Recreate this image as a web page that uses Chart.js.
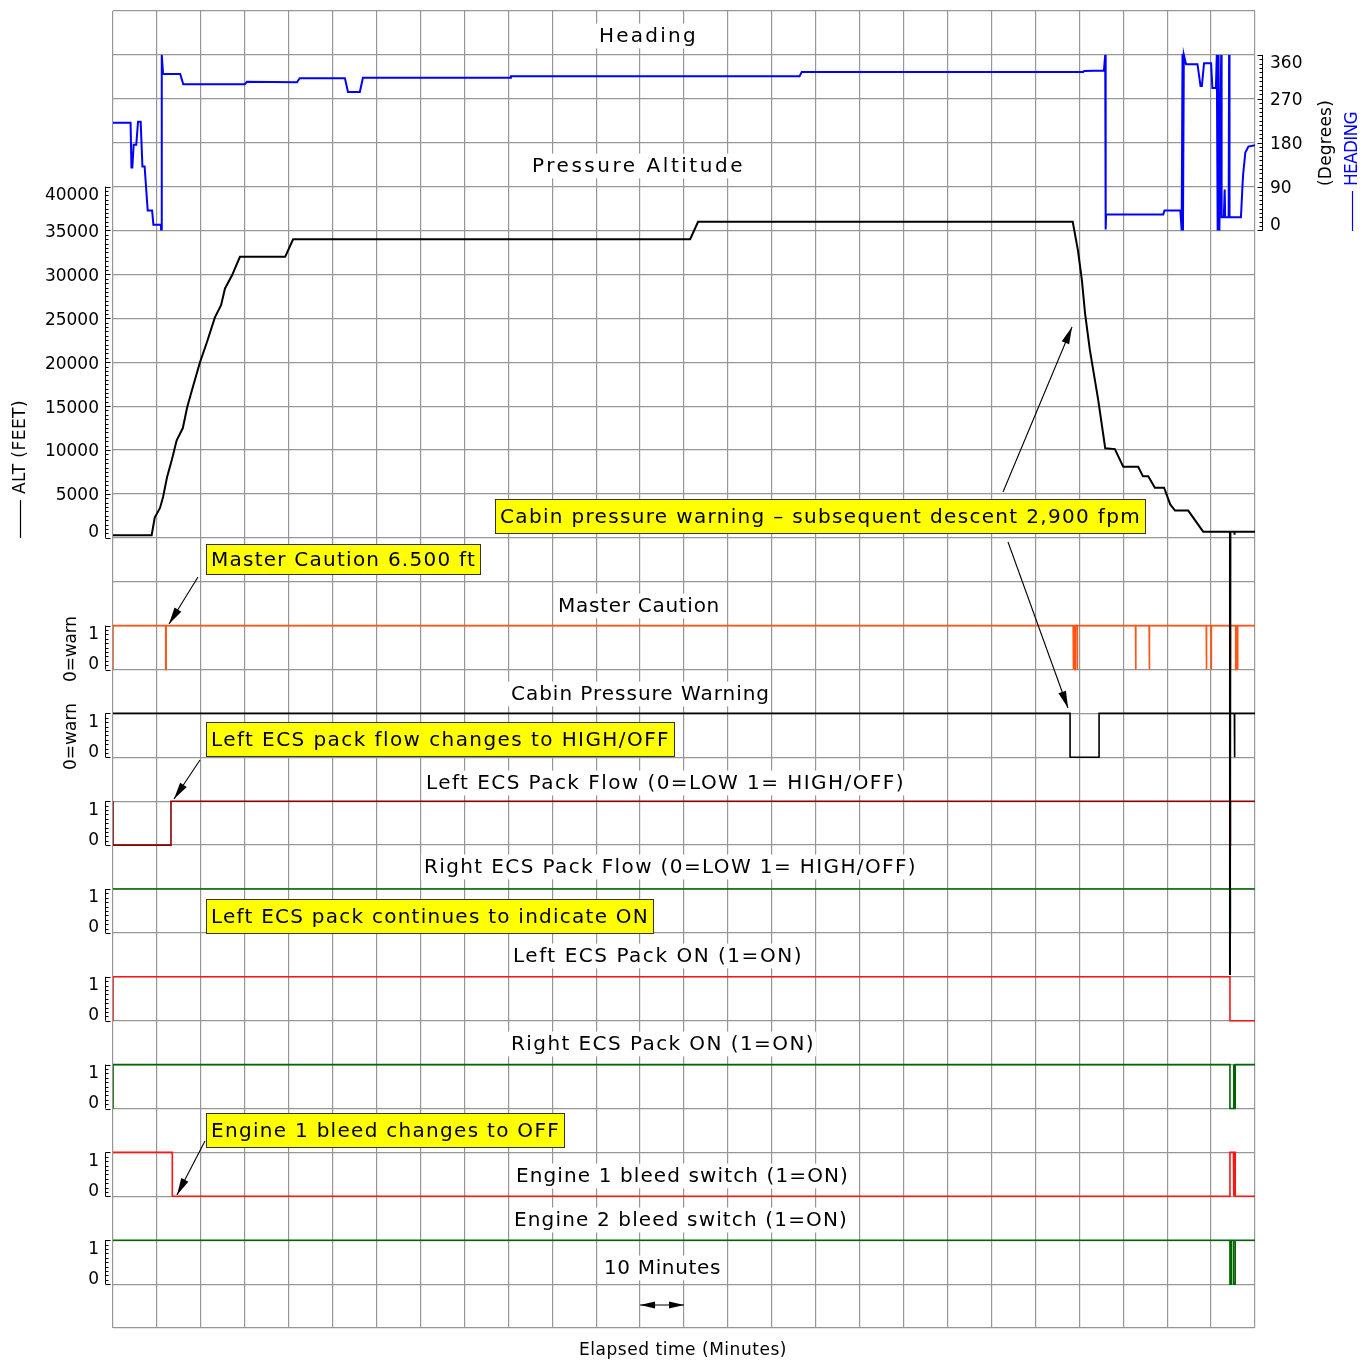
<!DOCTYPE html>
<html><head><meta charset="utf-8">
<script src="https://cdn.jsdelivr.net/npm/chart.js@4.4.1/dist/chart.umd.min.js"></script>
<style>html,body{margin:0;padding:0;background:#fff;overflow:hidden}canvas{display:block}</style>
</head><body>
<canvas id="c" width="1372" height="1365"></canvas>
<script>
// ---------- DATA (elapsed minutes / values) ----------
const xTickMinutes = [0,10,20,30,40,50,60,70,80,90,100,110,120,130,140,150,160,170,180,190,200,210,220,230,240,250,260];
const altTickLabels = [0,5000,10000,15000,20000,25000,30000,35000,40000];
const hdgTickLabels = [0,90,180,270,360];
const sigTickLabels = [0,1];

const altMin = [0,8.8,9.5,10.7,11.4,12.3,13.4,14.5,15.9,16.9,18.2,19.8,21.4,23.2,24.6,25.5,27.1,28.9,39.2,41.0,131.4,133.2,218.5,219.7,220.6,221.3,222.4,224.3,225.9,228.1,230.0,233.4,234.5,235.7,237.2,239.3,240.7,241.8,244.8,248.2,254.3,254.3,254.4,255.3,255.3,255.4,260];
const altFt  = [300,300,2300,3400,4650,6900,8900,11100,12500,14900,17200,20000,22300,25100,26500,28400,29900,32000,32000,34000,34000,36000,36000,32700,29300,25600,21400,15700,10200,10100,8100,8100,7000,7000,5700,5700,3800,3100,3100,700,700,-49800,700,700,350,700,700];

const hdgMin = [0,4.0,4.2,4.4,4.7,5.3,5.7,6.3,6.7,7.2,7.9,8.9,9.2,10.9,10.95,11.1,11.4,15.3,16.0,30.0,30.5,41.9,42.5,52.8,53.5,56.2,56.9,90.4,90.6,156.3,156.8,220.9,221.1,225.6,225.9,226.0,226.1,239.1,239.4,243.0,243.3,243.5,243.6,243.8,244.3,246.9,247.6,247.9,248.4,250.0,250.3,251.1,251.3,251.5,251.7,251.9,252.3,252.4,252.9,253.1,253.2,254.0,254.1,254.2,256.8,257.2,257.3,257.8,258.5,260];
const hdgDeg = [221,221,129,129,176,176,223,223,131,131,41,41,12,12,2,360,321,321,300,300,305,304,312,312,284,284,313,313,316,316,325,325,327,328,360,2,33,33,41,41,0,362,0,360,341,341,296,296,343,343,292,292,360,0,360,0,360,27,27,84,27,27,360,27,27,100,115,160,172,175];

const mcMin = [0,0,12.0,12.0,12.1,12.1,218.6,218.6,218.7,218.7,219.0,219.0,219.1,219.1,219.5,219.5,219.6,219.6,232.8,232.8,232.9,232.9,235.9,235.9,236.0,236.0,248.9,248.9,249.0,249.0,250.0,250.0,250.1,250.1,254.3,254.3,254.4,254.4,255.6,255.6,255.7,255.7,256.0,256.0,256.1,256.1,260];
const mcVal = [0,1,1,0,0,1,1,0,0,1,1,0,0,1,1,0,0,1,1,0,0,1,1,0,0,1,1,0,0,1,1,0,0,1,1,0,0,1,1,0,0,1,1,0,0,1,1];

const cpwMin = [0,217.9,217.9,224.5,224.5,255.3,255.3,255.4,255.4,260];
const cpwVal = [1,1,0,0,1,1,0,0,1,1];

const lfMin = [0,0,13.2,13.2,254.3,254.3,254.4,254.4,260];
const lfVal = [1,0,0,1,1,0,0,1,1];

const rfMin = [0,254.3,254.3,254.4,254.4,260];
const rfVal = [1,1,0,0,1,1];

const lonMin = [0,0,254.3,254.3,260];
const lonVal = [0,1,1,0,0];

const ronMin = [0,0,254.3,254.3,255.1,255.1,255.2,255.2,255.5,255.5,260];
const ronVal = [0,1,1,0,0,1,1,0,0,1,1];

const e1Min = [0,13.5,13.5,254.3,254.3,255.1,255.1,255.2,255.2,255.5,255.5,260];
const e1Val = [1,1,0,0,1,1,0,0,1,1,0,0];

const e2Min = [0,254.3,254.3,254.6,254.6,255.1,255.1,255.5,255.5,260];
const e2Val = [1,1,0,0,1,1,0,0,1,1];

// ---------- helpers ----------
const FAM = "'DejaVu Sans', 'Liberation Sans', sans-serif";
const pts = (xs, ys) => xs.map((x, i) => ({x, y: ys[i]}));
const ROWS = 30;
function zeroW(s){
  s.width = 0; s.paddingTop = 0; s.paddingBottom = 0; s.paddingLeft = 0; s.paddingRight = 0;
  s._computeLabelArea = function(){ return undefined; };
}
function tickFont(){ return {family: FAM, size: 17, lineHeight: 0.82}; }
function shiftLabel(v, top, bottom){
  if (v === top) return ['', String(v)];
  if (v === bottom) return [String(v), ''];
  return String(v);
}
function sigAxis(zeroRow){
  return {
    type: 'linear', position: 'left', min: -(ROWS - zeroRow), max: zeroRow,
    grid: {display: false, drawTicks: false}, border: {display: false},
    ticks: {padding: 14, labelOffset: 2, color: '#000', autoSkip: false, font: tickFont(),
      callback: v => shiftLabel(v, 1, 0)},
    afterBuildTicks: a => { a.ticks = sigTickLabels.map(v => ({value: v})); },
    afterFit: zeroW
  };
}
const GRID = 'rgb(150,150,150)';

function ds(label, data, axis, color, w){
  return {label, data, yAxisID: axis, borderColor: color, backgroundColor: color,
    borderWidth: w, pointRadius: 0, fill: false, tension: 0, spanGaps: true};
}

const datasets = [
  ds('Pressure Altitude', pts(altMin, altFt), 'alt', '#000', 2),
  ds('Heading', pts(hdgMin, hdgDeg), 'hdg', 'rgb(0,0,255)', 2),
  ds('Master Caution', pts(mcMin, mcVal), 'mc', 'rgb(255,85,20)', 1.6),
  ds('Cabin Pressure Warning', pts(cpwMin, cpwVal), 'cpw', '#000', 1.6),
  ds('Left ECS Pack Flow', pts(lfMin, lfVal), 'lf', 'rgb(140,0,0)', 1.6),
  ds('Right ECS Pack Flow', pts(rfMin, rfVal), 'rf', 'rgb(0,110,0)', 1.6),
  ds('Left ECS Pack ON', pts(lonMin, lonVal), 'lon', 'rgb(255,20,20)', 1.6),
  ds('Right ECS Pack ON', pts(ronMin, ronVal), 'ron', 'rgb(0,100,0)', 1.6),
  ds('Engine 1 bleed switch', pts(e1Min, e1Val), 'e1', 'rgb(255,20,20)', 1.6),
  ds('Engine 2 bleed switch', pts(e2Min, e2Val), 'e2', 'rgb(0,100,0)', 1.6)
];

// ---------- decoration text ----------
const titles = [
  ['Heading', 599, 698, 36],
  ['Pressure Altitude', 532, 745, 166],
  ['Master Caution', 558, 720, 606],
  ['Cabin Pressure Warning', 511, 770, 694],
  ['Left ECS Pack Flow (0=LOW 1= HIGH/OFF)', 426, 905, 783],
  ['Right ECS Pack Flow (0=LOW 1= HIGH/OFF)', 424, 917, 867],
  ['Left ECS Pack ON (1=ON)', 513, 803, 956],
  ['Right ECS Pack ON (1=ON)', 511, 815, 1044],
  ['Engine 1 bleed switch (1=ON)', 516, 849, 1176],
  ['Engine 2 bleed switch (1=ON)', 514, 848, 1220],
  ['10 Minutes', 604, 721, 1268]
];
const notes = [
  ['Master Caution 6.500 ft', 206, 481, 544, 575],
  ['Cabin pressure warning \u2013 subsequent descent 2,900 fpm', 495, 1146, 499, 534],
  ['Left ECS pack flow changes to HIGH/OFF', 206, 675, 722, 757],
  ['Left ECS pack continues to indicate ON', 206, 654, 899, 934],
  ['Engine 1 bleed changes to OFF', 206, 565, 1113, 1148]
];
const noteArrows = [
  [198, 577, 169, 624],
  [200, 760, 174, 799],
  [205, 1141, 177, 1195],
  [1003, 492, 1072, 327],
  [1008, 542, 1068, 708]
];

function fitText(ctx, text, x1, x2, yc, size, color, bg){
  ctx.save();
  ctx.font = size + 'px ' + FAM;
  ctx.letterSpacing = '0px';
  const w = ctx.measureText(text).width;
  let ls = (x2 - x1 - w) / text.length;
  ls = Math.max(-1, Math.min(8, ls));
  ctx.letterSpacing = ls + 'px';
  const tw = ctx.measureText(text).width;
  if (bg) { ctx.fillStyle = bg; ctx.fillRect(x1 - 3, yc - size * 0.62, tw + 4, size * 1.24); }
  ctx.fillStyle = color; ctx.textAlign = 'left'; ctx.textBaseline = 'middle';
  ctx.fillText(text, x1, yc + 1);
  ctx.restore();
}
function rotText(ctx, text, xc, yBottom, yTop, size, color){
  ctx.save();
  ctx.translate(xc, (yBottom + yTop) / 2);
  ctx.rotate(-Math.PI / 2);
  fitText(ctx, text, -(yBottom - yTop) / 2, (yBottom - yTop) / 2, 0, size, color);
  ctx.restore();
}
function arrowHead(ctx, x1, y1, x2, y2, len, hw){
  const a = Math.atan2(y2 - y1, x2 - x1);
  ctx.beginPath();
  ctx.moveTo(x2, y2);
  ctx.lineTo(x2 - len * Math.cos(a) + hw * Math.sin(a), y2 - len * Math.sin(a) - hw * Math.cos(a));
  ctx.lineTo(x2 - len * Math.cos(a) - hw * Math.sin(a), y2 - len * Math.sin(a) + hw * Math.cos(a));
  ctx.closePath(); ctx.fill();
}
function arrow(ctx, x1, y1, x2, y2){
  ctx.save();
  ctx.strokeStyle = '#000'; ctx.fillStyle = '#000'; ctx.lineWidth = 1.1;
  ctx.beginPath(); ctx.moveTo(x1, y1); ctx.lineTo(x2, y2); ctx.stroke();
  arrowHead(ctx, x1, y1, x2, y2, 17, 4);
  ctx.restore();
}
function axisRuler(ctx, scale, x, dir, vmin, vmax, minorStep, majorStep){
  const p0 = scale.getPixelForValue(vmin), p1 = scale.getPixelForValue(vmax);
  ctx.save();
  ctx.strokeStyle = '#000'; ctx.lineWidth = 1;
  ctx.beginPath(); ctx.moveTo(x + 0.5, p0); ctx.lineTo(x + 0.5, p1); ctx.stroke();
  const n = Math.round((vmax - vmin) / minorStep);
  ctx.beginPath();
  for (let i = 0; i <= n; i++) {
    const v = vmin + i * minorStep;
    const y = Math.round(scale.getPixelForValue(v)) + 0.5;
    const major = Math.abs(v / majorStep - Math.round(v / majorStep)) < 1e-6;
    const L = major ? 5 : 3;
    ctx.moveTo(x + 0.5, y); ctx.lineTo(x + 0.5 + dir * L, y);
  }
  ctx.stroke();
  ctx.restore();
}

const decor = {
  id: 'decor',
  beforeDatasetsDraw(chart){
    const ctx = chart.ctx, s = chart.scales;
    axisRuler(ctx, s.alt, 105, 1, 0, 40000, 500, 5000);
    ['mc','cpw','lf','rf','lon','ron','e1','e2'].forEach(id => axisRuler(ctx, s[id], 105, 1, 0, 1, 0.1, 1));
    axisRuler(ctx, s.hdg, 1262, -1, 0, 360, 9, 90);
    titles.forEach(t => fitText(ctx, t[0], t[1], t[2], t[3], 20, '#000', '#fff'));
  },
  afterDatasetsDraw(chart){
    const ctx = chart.ctx, s = chart.scales;
    notes.forEach(n => {
      ctx.save();
      ctx.fillStyle = 'rgb(255,255,0)';
      ctx.fillRect(n[1], n[3], n[2] - n[1], n[4] - n[3]);
      ctx.strokeStyle = '#333'; ctx.lineWidth = 1;
      ctx.strokeRect(n[1] + 0.5, n[3] + 0.5, n[2] - n[1] - 1, n[4] - n[3] - 1);
      ctx.restore();
      fitText(ctx, n[0], n[1] + 5, n[2] - 5, (n[3] + n[4]) / 2, 20, '#000');
    });
    noteArrows.forEach(a => arrow(ctx, a[0], a[1], a[2], a[3]));
    const xa = s.x.getPixelForValue(120), xb = s.x.getPixelForValue(130), ya = 1305;
    ctx.save();
    ctx.strokeStyle = '#000'; ctx.fillStyle = '#000'; ctx.lineWidth = 1.2;
    ctx.beginPath(); ctx.moveTo(xa, ya); ctx.lineTo(xb, ya); ctx.stroke();
    arrowHead(ctx, xb, ya, xa, ya, 15, 3.5);
    arrowHead(ctx, xa, ya, xb, ya, 15, 3.5);
    ctx.restore();
    fitText(ctx, 'Elapsed time (Minutes)', 579, 787, 1350, 17, '#000');
    rotText(ctx, 'ALT (FEET)', 20, 494, 400, 17, '#000');
    ctx.save(); ctx.strokeStyle = '#000'; ctx.lineWidth = 1.2;
    ctx.beginPath(); ctx.moveTo(20.5, 500); ctx.lineTo(20.5, 538); ctx.stroke(); ctx.restore();
    rotText(ctx, '0=warn', 71, 682, 616, 17, '#000');
    rotText(ctx, '0=warn', 71, 770, 703, 17, '#000');
    rotText(ctx, '(Degrees)', 1326, 186, 100, 17, '#000');
    rotText(ctx, 'HEADING', 1352, 186, 112, 17, 'rgb(0,0,255)');
    ctx.save(); ctx.strokeStyle = 'rgb(0,0,255)'; ctx.lineWidth = 1.2;
    ctx.beginPath(); ctx.moveTo(1352.5, 191); ctx.lineTo(1352.5, 231); ctx.stroke(); ctx.restore();
  }
};

const chart = new Chart(document.getElementById('c'), {
  type: 'line',
  data: {datasets},
  options: {
    responsive: false, animation: false, parsing: true, normalized: true,
    layout: {padding: {left: 113, right: 117, top: 11, bottom: 37}},
    plugins: {legend: {display: false}, tooltip: {enabled: false}, title: {display: false}},
    scales: {
      x: {type: 'linear', position: 'bottom', min: 0, max: 260,
        grid: {color: GRID, lineWidth: 1.2, drawTicks: false}, border: {display: false},
        ticks: {display: false},
        afterBuildTicks: a => { a.ticks = xTickMinutes.map(v => ({value: v})); },
        afterFit: s => { s.height = 0; s.paddingLeft = 0; s.paddingRight = 0; }},
      g: {type: 'linear', position: 'left', min: 0, max: ROWS,
        grid: {color: GRID, lineWidth: 1.2, drawTicks: false}, border: {display: false},
        ticks: {display: false},
        afterBuildTicks: a => { a.ticks = Array.from({length: ROWS + 1}, (_, i) => ({value: i})); },
        afterFit: zeroW},
      alt: {type: 'linear', position: 'left', min: -90000, max: 60000,
        grid: {display: false, drawTicks: false}, border: {display: false},
        ticks: {padding: 14, labelOffset: 2, color: '#000', autoSkip: false, font: tickFont(),
          callback: v => shiftLabel(v, 40000, 0)},
        afterBuildTicks: a => { a.ticks = altTickLabels.map(v => ({value: v})); },
        afterFit: zeroW},
      hdg: {type: 'linear', position: 'right', min: -2250, max: 450,
        grid: {display: false, drawTicks: false}, border: {display: false},
        ticks: {padding: 15, labelOffset: 2, color: '#000', autoSkip: false, font: tickFont(),
          callback: v => shiftLabel(v, 360, 0)},
        afterBuildTicks: a => { a.ticks = hdgTickLabels.map(v => ({value: v})); },
        afterFit: zeroW},
      mc: sigAxis(15),
      cpw: sigAxis(17),
      lf: sigAxis(19),
      rf: sigAxis(21),
      lon: sigAxis(23),
      ron: sigAxis(25),
      e1: sigAxis(27),
      e2: sigAxis(29)
    }
  },
  plugins: [decor]
});
</script>
</body></html>
